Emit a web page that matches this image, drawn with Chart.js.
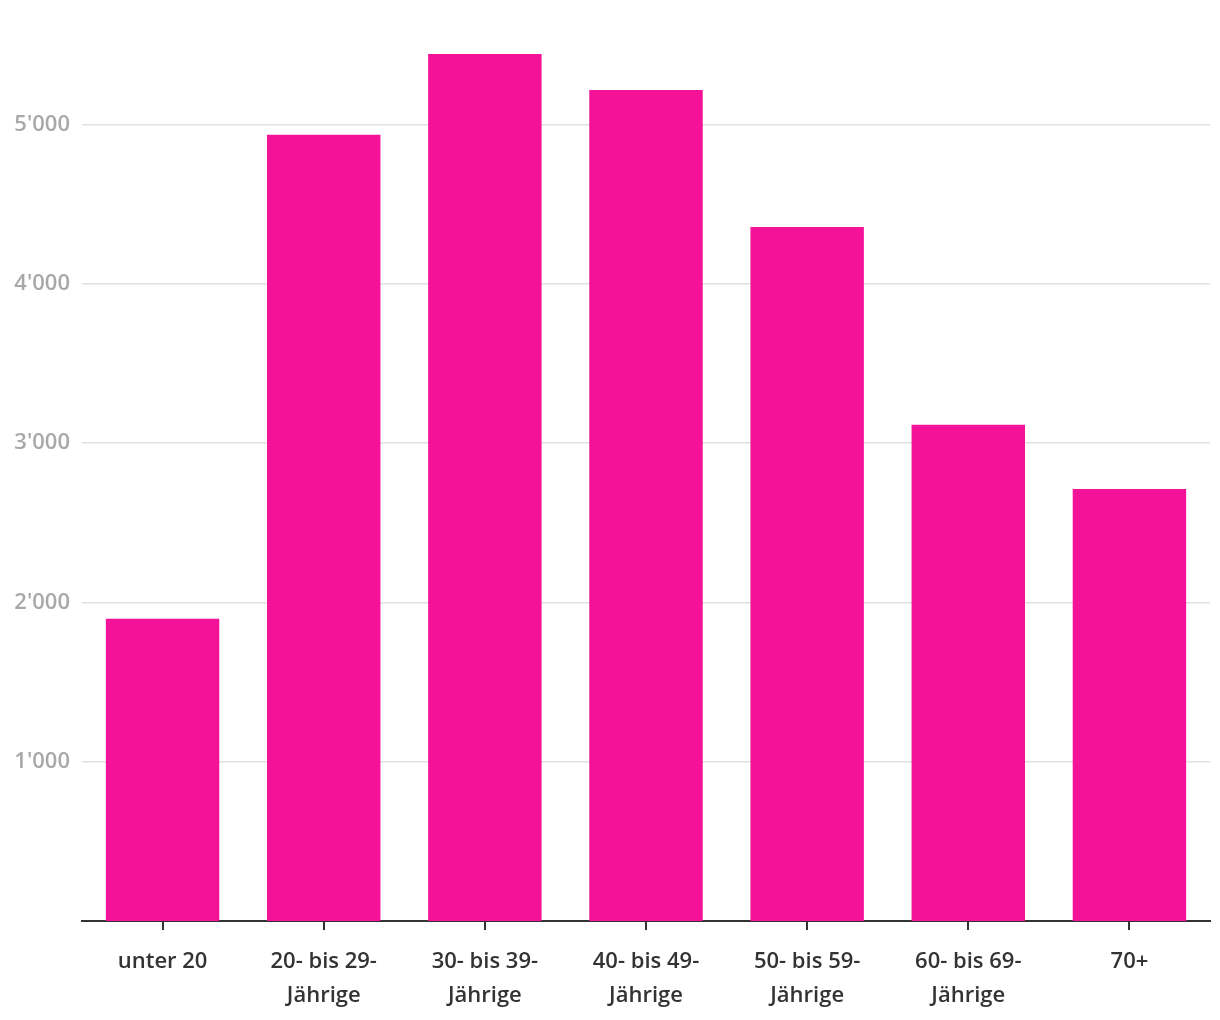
<!DOCTYPE html>
<html>
<head>
<meta charset="utf-8">
<script src="https://cdn.jsdelivr.net/npm/chart.js@4"></script>
<style>
  html, body { margin: 0; padding: 0; background: #fff; }
  #wrap { width: 1220px; height: 1020px; }
</style>
</head>
<body>
<div id="wrap"><canvas id="chart"></canvas></div>
<script>
const categories = [
    'unter 20',
    ['20- bis 29-', 'Jährige'],
    ['30- bis 39-', 'Jährige'],
    ['40- bis 49-', 'Jährige'],
    ['50- bis 59-', 'Jährige'],
    ['60- bis 69-', 'Jährige'],
    '70+'
];
const values = [1897, 4937, 5444, 5218, 4358, 3115, 2713];
const yTicks = [1000, 2000, 3000, 4000, 5000];

const fmt = v => String(v).replace(/\B(?=(\d{3})+(?!\d))/g, "'");

new Chart(document.getElementById('chart'), {
    type: 'bar',
    data: {
        labels: categories,
        datasets: [{
            data: values,
            backgroundColor: '#F41398',
            barPercentage: 0.704,
            categoryPercentage: 1
        }]
    },
    options: {
        responsive: true,
        maintainAspectRatio: false,
        animation: false,
        layout: { padding: { top: 45, right: 10, left: 0, bottom: 0 } },
        plugins: {
            legend: { display: false },
            tooltip: { enabled: false }
        },
        scales: {
            x: {
                afterFit: (scale) => { scale.height = 99; },
                border: { display: true, color: '#333', width: 2 },
                grid: {
                    offset: false,
                    drawOnChartArea: false,
                    drawTicks: true,
                    tickLength: 9,
                    color: '#333',
                    lineWidth: 2
                },
                ticks: {
                    color: '#333',
                    padding: 15,
                    maxRotation: 0,
                    autoSkip: false,
                    font: { family: 'Open Sans', size: 22, weight: 600, lineHeight: 1.55 }
                }
            },
            y: {
                min: 0,
                max: 5500,
                afterFit: (scale) => { scale.width = 82; },
                afterBuildTicks: (scale) => {
                    scale.ticks = yTicks.map(v => ({ value: v }));
                },
                border: { display: false },
                grid: {
                    drawTicks: false,
                    color: '#e0e0e0',
                    lineWidth: 1.5
                },
                ticks: {
                    color: '#a8a8a8',
                    padding: 12,
                    callback: (v) => fmt(v),
                    font: { family: 'Open Sans', size: 22, weight: 600 }
                }
            }
        }
    }
});
</script>
</body>
</html>
